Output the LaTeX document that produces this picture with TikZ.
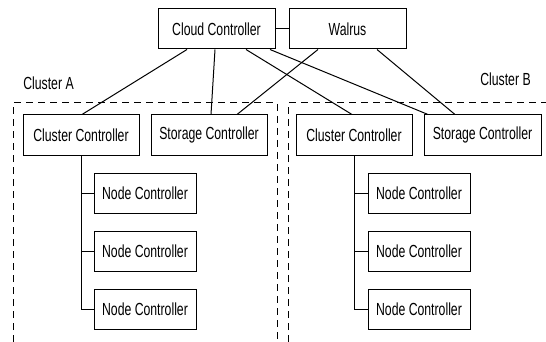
\documentclass[tikz,border=0pt]{standalone}
\usepackage{fontspec}
\setmainfont{Liberation Sans}[FakeStretch=0.7]
\usetikzlibrary{calc}
\begin{document}
\begin{tikzpicture}[x=1pt,y=-1pt,
  box/.style={draw, line width=1pt, rectangle, minimum height=40pt, inner sep=0pt,
    font=\fontsize{17.5}{20}\selectfont},
  conn/.style={line width=1pt},
  clusterline/.style={line width=1pt, dash pattern=on 7pt off 5pt},
  lbl/.style={font=\fontsize{17.5}{20}\selectfont, inner sep=0pt}]
\useasboundingbox (0,0) rectangle (546,342);
% clusters
\draw[clusterline] (13,342) -- (13,103) -- (277,103) -- (277,342);
\draw[clusterline] (288,342) -- (288,103) -- (546,103);
\node[lbl] (labA) at (48.5,83) {Cluster A};
\node[lbl] (labB) at (505.5,79) {Cluster B};
% top
\node[box, minimum width=117pt] (cloud) at (216.5,29) {Cloud Controller};
\node[box, minimum width=117pt] (walrus) at (347.5,29) {Walrus};
% cluster A
\node[box, minimum width=116pt] (cca) at (81,135) {Cluster Controller};
\node[box, minimum width=116pt] (sca) at (209,135) {Storage Controller};
\node[box, minimum width=102pt] (na1) at (145,193) {Node Controller};
\node[box, minimum width=102pt] (na2) at (145,251) {Node Controller};
\node[box, minimum width=102pt] (na3) at (145,309) {Node Controller};
% cluster B
\node[box, minimum width=116pt] (ccb) at (354,135) {Cluster Controller};
\node[box, minimum width=117pt] (scb) at (482.5,135) {Storage Controller};
\node[box, minimum width=102pt] (nb1) at (419,193) {Node Controller};
\node[box, minimum width=102pt] (nb2) at (419,251) {Node Controller};
\node[box, minimum width=102pt] (nb3) at (419,309) {Node Controller};
% connectors
\draw[conn] (cloud.east) -- (walrus.west);
\draw[conn] ([xshift=-29.5pt]cloud.south) -- ([xshift=1pt]cca.north);
\draw[conn] ([xshift=-1.5pt]cloud.south) -- ([xshift=2pt]sca.north);
\draw[conn] ([xshift=29.5pt]cloud.south) -- ([xshift=-2pt]ccb.north);
\draw[conn] ([xshift=53.5pt]cloud.south) -- ([xshift=-54.5pt]scb.north);
\draw[conn] ([xshift=-29.5pt]walrus.south) -- ([xshift=28pt]sca.north);
\draw[conn] ([xshift=29.5pt]walrus.south) -- ([xshift=-27.5pt]scb.north);
% node trees
\draw[conn] (cca.south) |- (na3.west);
\draw[conn] (cca.south |- na1.west) -- (na1.west);
\draw[conn] (cca.south |- na2.west) -- (na2.west);
\draw[conn] (ccb.south) |- (nb3.west);
\draw[conn] (ccb.south |- nb1.west) -- (nb1.west);
\draw[conn] (ccb.south |- nb2.west) -- (nb2.west);
\end{tikzpicture}
\end{document}
